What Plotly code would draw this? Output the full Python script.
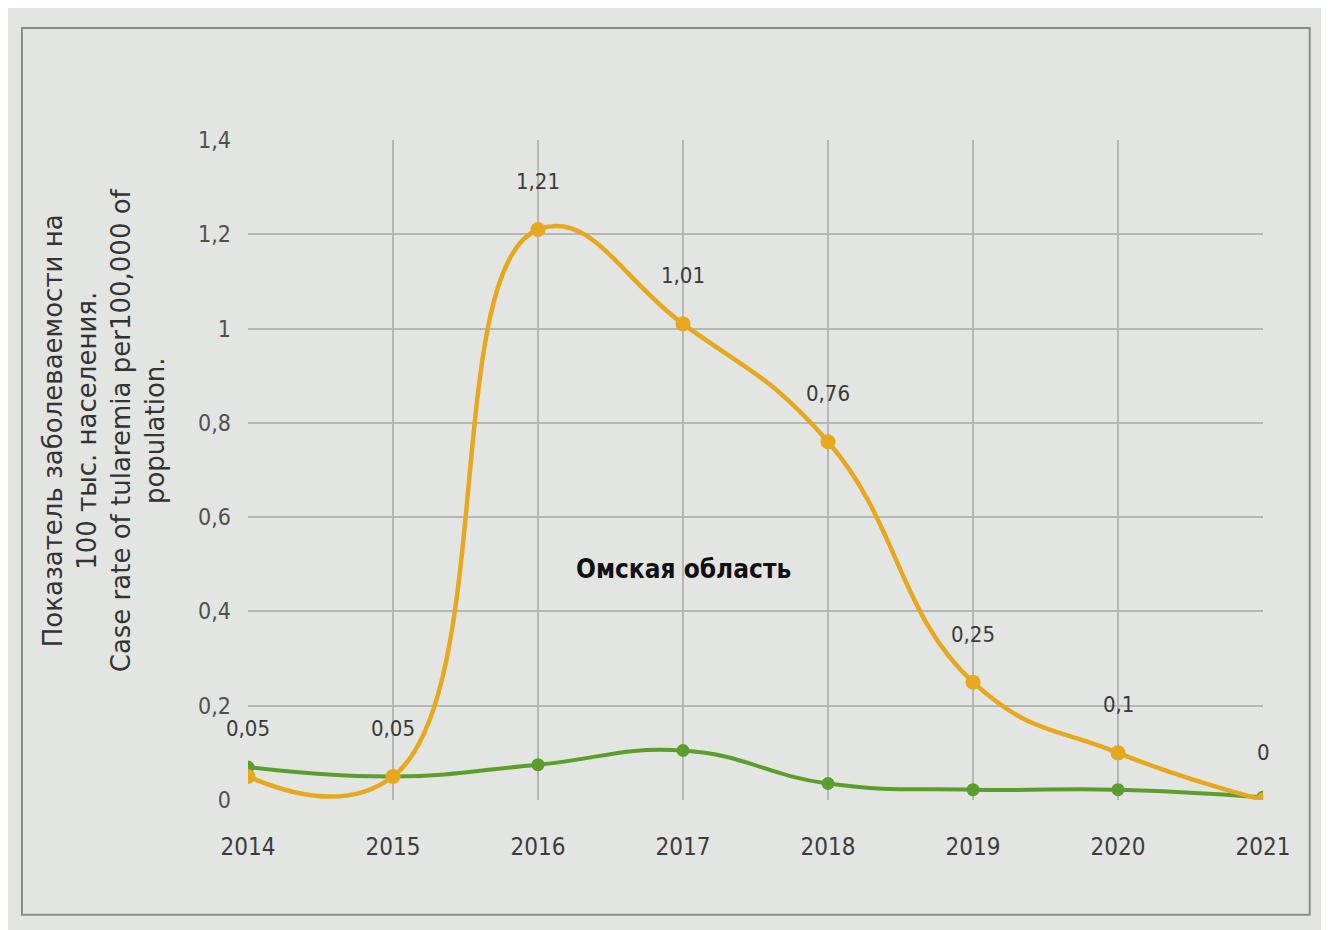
import plotly.graph_objects as go

years = [2014, 2015, 2016, 2017, 2018, 2019, 2020, 2021]
omsk_rate = [0.05, 0.05, 1.21, 1.01, 0.76, 0.25, 0.1, 0.0]
russia_rate = [0.07, 0.05, 0.075, 0.105, 0.035, 0.022, 0.022, 0.006]
y_ticks = [0, 0.2, 0.4, 0.6, 0.8, 1.0, 1.2, 1.4]

ORANGE = "#e6a81e"
GREEN = "#5c9e2c"
FONT = "DejaVu Sans Condensed, Liberation Sans Narrow, Liberation Sans, sans-serif"
TITLE_FONT = "DejaVu Sans, Liberation Sans, sans-serif"

def fmt(v):
    return f"{v:g}".replace(".", ",")

fig = go.Figure()
fig.add_trace(go.Scatter(
    x=years, y=russia_rate, mode="lines+markers",
    line=dict(color=GREEN, width=4, shape="spline", smoothing=1.3),
    marker=dict(color=GREEN, size=13), showlegend=False))
fig.add_trace(go.Scatter(
    x=years, y=omsk_rate, mode="lines+markers",
    line=dict(color=ORANGE, width=4.5, shape="spline", smoothing=1.3),
    marker=dict(color=ORANGE, size=15), showlegend=False, cliponaxis=True))

for x, v in zip(years, omsk_rate):
    fig.add_annotation(x=x, y=v, text=fmt(v), showarrow=False, yshift=48,
                       font=dict(family=FONT, size=22, color="#3a3a3a"))

fig.add_annotation(x=2017, y=0.49, text="<b>Омская область</b>", showarrow=False,
                   font=dict(family=FONT, size=26, color="#111111"))

fig.add_annotation(
    xref="paper", yref="paper", x=-0.142, y=0.56, xanchor="center", yanchor="middle",
    textangle=-90, showarrow=False,
    text="Показатель заболеваемости на<br>100 тыс. населения.<br>Case rate of tularemia per100,000 of<br>population.",
    font=dict(family=TITLE_FONT, size=26, color="#333333"), align="center")

fig.add_shape(type="rect", xref="paper", yref="paper",
              x0=-0.2227, x1=1.046, y0=-0.174, y1=1.1697,
              line=dict(color="#8a8c8a", width=2), fillcolor="rgba(0,0,0,0)", layer="below")

fig.update_layout(
    width=1329, height=930,
    margin=dict(l=240, r=74, t=132, b=138),
    paper_bgcolor="#e3e5e3", plot_bgcolor="#e3e5e3",
    separators=", ",
    font=dict(family=FONT, color="#555555"),
)
fig.update_xaxes(
    range=[2014, 2021], tickvals=years, ticktext=[str(y) for y in years],
    showgrid=True, gridcolor="#b5b7b5", gridwidth=1.5, zeroline=False,
    showline=False, tickfont=dict(family=FONT, size=24, color="#3c3c3c"),
    ticklabelstandoff=30)
fig.update_yaxes(
    range=[0, 1.4], tickvals=y_ticks, ticktext=[fmt(v) for v in y_ticks],
    showgrid=True, gridcolor="#b5b7b5", gridwidth=1.5, zeroline=False,
    showline=False, tickfont=dict(family=FONT, size=23, color="#505050"),
    ticklabelstandoff=16)

fig.write_html("out.html")
